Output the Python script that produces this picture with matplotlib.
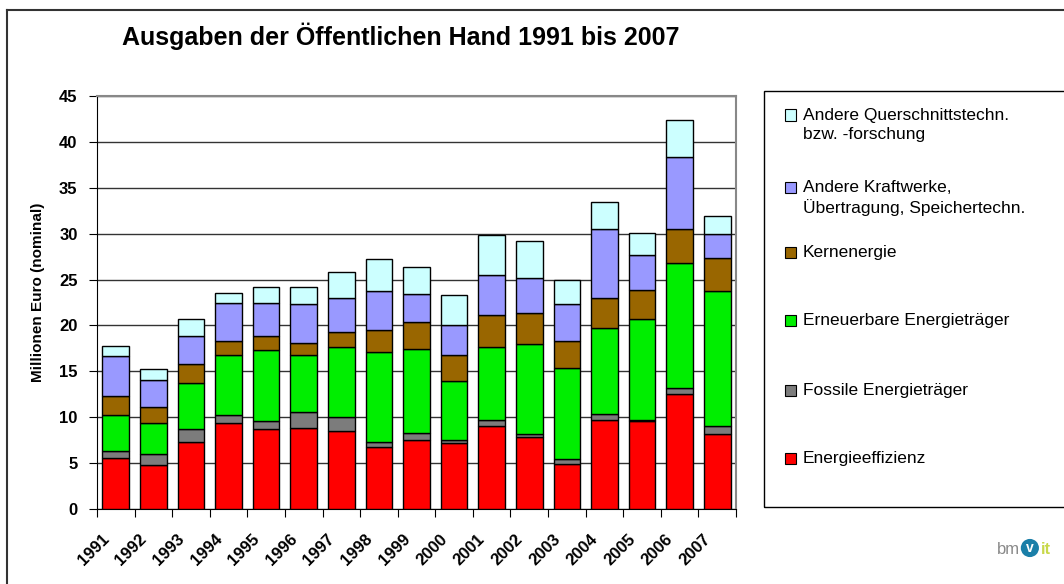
import matplotlib
matplotlib.use("Agg")
import matplotlib.pyplot as plt
import matplotlib.transforms as mtrans
from matplotlib.patches import Rectangle
from matplotlib.lines import Line2D
import numpy as np

plt.rcParams['font.family'] = ['Liberation Sans', 'DejaVu Sans']

#%% Data (Millionen Euro)
years = ['1991', '1992', '1993', '1994', '1995', '1996', '1997', '1998', '1999',
         '2000', '2001', '2002', '2003', '2004', '2005', '2006', '2007']
effizienz = [5.6, 4.75, 7.3, 9.35, 8.7, 8.85, 8.55, 6.8, 7.5, 7.15, 9.05, 7.85, 4.95, 9.75, 9.6, 12.5, 8.15]
fossile = [0.75, 1.2, 1.4, 0.9, 0.9, 1.75, 1.5, 0.55, 0.75, 0.35, 0.7, 0.35, 0.5, 0.55, 0.1, 0.65, 0.9]
erneuerbare = [3.9, 3.4, 5.0, 6.5, 7.7, 6.15, 7.55, 9.8, 9.2, 6.5, 7.9, 9.8, 9.95, 9.4, 11.0, 13.6, 14.75]
kern = [2.05, 1.8, 2.05, 1.6, 1.5, 1.35, 1.7, 2.4, 2.95, 2.75, 3.45, 3.4, 2.95, 3.3, 3.2, 3.75, 3.5]
kraftwerke = [4.4, 2.9, 3.1, 4.05, 3.65, 4.2, 3.7, 4.25, 3.05, 3.3, 4.4, 3.75, 3.95, 7.5, 3.8, 7.9, 2.7]
querschnitt = [1.1, 1.2, 1.9, 1.1, 1.75, 1.9, 2.8, 3.45, 2.95, 3.25, 4.4, 4.0, 2.6, 3.0, 2.4, 4.0, 1.9]

series = [effizienz, fossile, erneuerbare, kern, kraftwerke, querschnitt]
labels = ['Energieeffizienz', 'Fossile Energieträger', 'Erneuerbare Energieträger',
          'Kernenergie', 'Andere Kraftwerke,\nÜbertragung, Speichertechn.',
          'Andere Querschnittstechn.\nbzw. -forschung']
colors = ['#ff0000', '#7c7c7c', '#00ee00', '#996600', '#9999ff', '#ccffff']

#%% Plot
fig = plt.figure(figsize=(10.64, 5.84), dpi=100)
ax = fig.add_axes([97/1064, 75/584, 639/1064, 413/584])

x = np.arange(len(years))
bottom = np.zeros(len(years))
for vals, col in zip(series, colors):
    ax.bar(x, vals, 0.71, bottom=bottom, color=col, edgecolor='black', linewidth=1.0, zorder=3)
    bottom += np.array(vals)

ax.set_xlim(-0.5, len(years) - 0.5)
ax.set_ylim(0, 45)
ax.set_yticks(range(0, 50, 5))
ax.yaxis.grid(True, color='#333333', linewidth=1.0, zorder=0)
ax.set_axisbelow(True)

# x ticks at category boundaries, labels centred on bars
ax.set_xticks(np.arange(-0.5, len(years), 1.0))
ax.set_xticklabels([])
ax.set_xticks(x, minor=True)
ax.set_xticklabels(years, minor=True, rotation=45, ha='right', va='center',
                   rotation_mode='anchor', fontsize=12, fontweight='bold')
ax.tick_params(axis='x', which='minor', length=0, pad=14)
ax.tick_params(axis='x', which='major', length=6, direction='out', color='black')
shift = mtrans.ScaledTranslation(-9/100, -8/100, fig.dpi_scale_trans)
for t in ax.get_xticklabels(minor=True):
    t.set_transform(t.get_transform() + shift)
ax.tick_params(axis='y', length=6, direction='out', labelsize=12, pad=8)
for t in ax.get_yticklabels():
    t.set_fontweight('bold')

ax.spines['left'].set_color('black')
ax.spines['bottom'].set_color('black')
ax.spines['top'].set_color('#888888')
ax.spines['right'].set_color('#888888')
ax.spines['top'].set_linewidth(1.5)
ax.spines['right'].set_linewidth(1.5)

ax.set_ylabel('Millionen Euro (nominal)', fontsize=11, fontweight='bold')
ax.yaxis.set_label_coords(-0.081, 0.525)
fig.text(401/1064, 1 - 36/584, 'Ausgaben der Öffentlichen Hand 1991 bis 2007',
         ha='center', va='center', fontsize=18, fontweight='bold')

#%% Legend drawn by hand (uneven spacing as in original)
fig.patches.append(Rectangle((764/1064, 1 - 507/584), 310/1064, 416/584, transform=fig.transFigure,
                             facecolor='none', edgecolor='black', linewidth=1.0))
leg_y = [115, 187, 252, 320, 390, 458]
for lab, col, yy in zip(labels[::-1], colors[::-1], leg_y):
    fig.patches.append(Rectangle((785/1064, 1 - (yy + 5.5)/584), 11/1064, 11/584,
                                 transform=fig.transFigure, facecolor=col,
                                 edgecolor='black', linewidth=0.8))
    fig.text(803/1064, 1 - (yy - 7)/584, lab, ha='left', va='top', fontsize=12.5,
             linespacing=1.3)

#%% Outer frame
fig.lines.append(Line2D([7/1064, 7/1064], [0, 1 - 10/584], transform=fig.transFigure,
                        color='#333333', linewidth=1.5))
fig.lines.append(Line2D([7/1064, 1], [1 - 10/584, 1 - 10/584], transform=fig.transFigure,
                        color='#333333', linewidth=1.5))

#%% logo
fig.text(997/1064, 1 - 549/584, 'bm', ha='left', va='center', fontsize=12, color='#8a8a8a')
fig.text(1026/1064, 1 - 548/584, 'v', ha='left', va='center', fontsize=10, color='white',
         fontweight='bold', bbox=dict(boxstyle='circle,pad=0.15', fc='#1a7fa8', ec='none'))
fig.text(1041/1064, 1 - 549/584, 'it', ha='left', va='center', fontsize=12, color='#c8d84a',
         fontweight='bold')

fig.savefig('out.png', dpi=100)
